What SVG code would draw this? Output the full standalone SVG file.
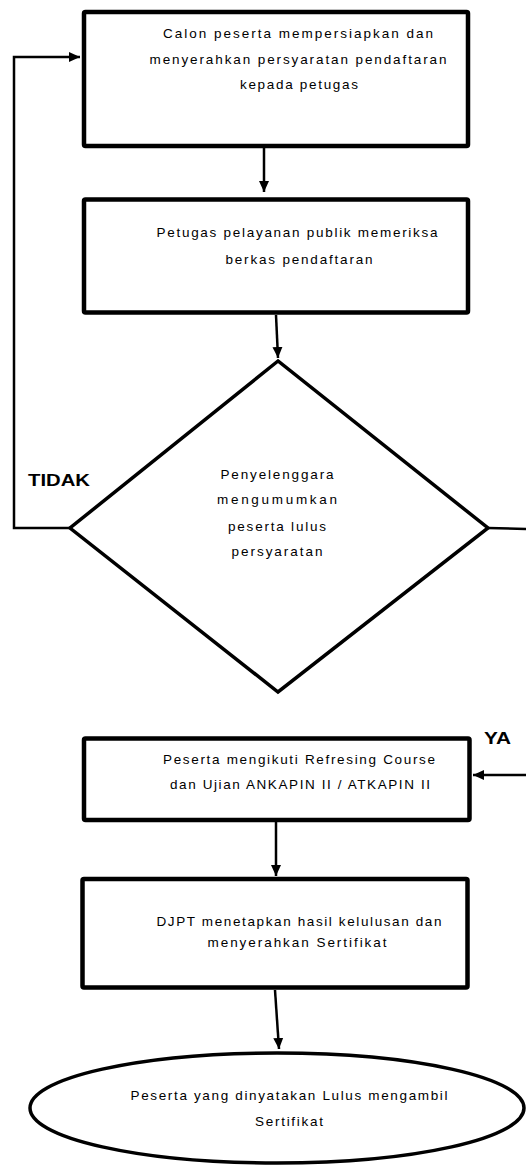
<svg xmlns="http://www.w3.org/2000/svg" width="526" height="1166" viewBox="0 0 526 1166">
<defs>
<marker id="ah" markerUnits="userSpaceOnUse" markerWidth="12" markerHeight="12" viewBox="0 0 12 12" refX="11" refY="6" orient="auto">
<path d="M0,1 L11,6 L0,11 Z" fill="#000"/>
</marker>
<style>
.box{fill:#fff;stroke:#000;stroke-width:4.5;stroke-linejoin:round}
.shape{fill:#fff;stroke:#000;stroke-width:3.5}
.con{fill:none;stroke:#000;stroke-width:2.5}
.t{font-family:"Liberation Sans",Arial,sans-serif;font-size:13.5px;fill:#000;text-anchor:middle}
.lb{font-family:"Liberation Sans",Arial,sans-serif;font-size:17px;font-weight:bold;fill:#000}
</style>
</defs>
<g id="connectors">
<line class="con" x1="264" y1="148" x2="264" y2="192" marker-end="url(#ah)"/>
<line class="con" x1="276" y1="315" x2="278" y2="358" marker-end="url(#ah)"/>
<polyline class="con" points="70,528 14,528 14,57 80,57" marker-end="url(#ah)"/>
<line class="con" x1="488" y1="528" x2="526" y2="529"/>
<line class="con" x1="526" y1="775" x2="473" y2="775" marker-end="url(#ah)"/>
<line class="con" x1="276" y1="822" x2="276" y2="876" marker-end="url(#ah)"/>
<line class="con" x1="275" y1="990" x2="279" y2="1049" marker-end="url(#ah)"/>
</g>
<g id="node1">
<rect class="box" x="84" y="12" width="384" height="134" rx="1.5"/>
<text class="t" x="298" y="38" textLength="270" lengthAdjust="spacing">Calon peserta mempersiapkan dan</text>
<text class="t" x="298" y="64" textLength="297" lengthAdjust="spacing">menyerahkan persyaratan pendaftaran</text>
<text class="t" x="299" y="89" textLength="118" lengthAdjust="spacing">kepada petugas</text>
</g>
<g id="node2">
<rect class="box" x="84" y="199.5" width="384" height="113" rx="1.5"/>
<text class="t" x="297" y="237" textLength="281" lengthAdjust="spacing">Petugas pelayanan publik memeriksa</text>
<text class="t" x="299" y="264" textLength="147" lengthAdjust="spacing">berkas pendaftaran</text>
</g>
<g id="node3">
<polygon class="shape" points="278,361 70,528 278,692 488,528" stroke-linejoin="miter"/>
<text class="t" x="277" y="479" textLength="113" lengthAdjust="spacing">Penyelenggara</text>
<text class="t" x="277" y="504" textLength="120" lengthAdjust="spacing">mengumumkan</text>
<text class="t" x="277" y="531" textLength="98" lengthAdjust="spacing">peserta lulus</text>
<text class="t" x="277" y="556" textLength="91" lengthAdjust="spacing">persyaratan</text>
</g>
<g id="labels">
<text class="lb" x="28" y="486" textLength="62" lengthAdjust="spacingAndGlyphs">TIDAK</text>
<text class="lb" x="484" y="744" textLength="27" lengthAdjust="spacingAndGlyphs">YA</text>
</g>
<g id="node4">
<rect class="box" x="84" y="738.5" width="385.5" height="81.5" rx="1.5"/>
<text class="t" x="299" y="764" textLength="272" lengthAdjust="spacing">Peserta mengikuti Refresing Course</text>
<text class="t" x="300" y="789" textLength="260" lengthAdjust="spacing">dan Ujian ANKAPIN II / ATKAPIN II</text>
</g>
<g id="node5">
<rect class="box" x="82.5" y="879" width="385" height="108.5" rx="1.5"/>
<text class="t" x="299" y="926" textLength="285" lengthAdjust="spacing">DJPT menetapkan hasil kelulusan dan</text>
<text class="t" x="297" y="947" textLength="179" lengthAdjust="spacing">menyerahkan Sertifikat</text>
</g>
<g id="node6">
<ellipse class="shape" cx="277" cy="1108" rx="247" ry="55"/>
<text class="t" x="289" y="1100" textLength="317" lengthAdjust="spacing">Peserta yang dinyatakan Lulus mengambil</text>
<text class="t" x="289" y="1126" textLength="68" lengthAdjust="spacing">Sertifikat</text>
</g>
</svg>
